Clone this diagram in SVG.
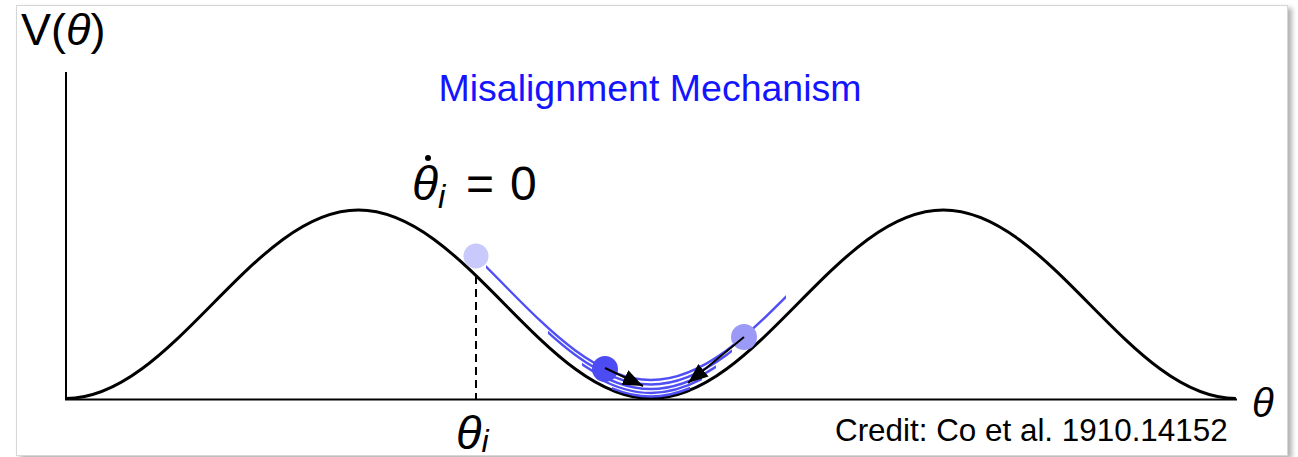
<svg xmlns="http://www.w3.org/2000/svg" xmlns:xlink="http://www.w3.org/1999/xlink" width="1298" height="457" viewBox="0 0 1298 457">
  <style>
    .txt { font-family: "Liberation Sans", Arial, sans-serif; fill: #000; }
    .it { font-style: italic; }
    .axis { stroke: #000; stroke-width: 2; fill: none; }
    .pot { stroke: #000; stroke-width: 3; fill: none; stroke-linejoin: round; }
    .trace { stroke: #4f4ff5; stroke-width: 2.4; fill: none; }
    .arrow { stroke: #000; stroke-width: 2; fill: none; marker-end: url(#ah); }
  </style>
  <defs>
    <filter id="shadow" x="-5%" y="-5%" width="110%" height="115%">
      <feDropShadow dx="4" dy="3" stdDeviation="2.5" flood-color="#000" flood-opacity="0.3"/>
    </filter>
    <marker id="ah" markerUnits="userSpaceOnUse" markerWidth="21" markerHeight="16" refX="20" refY="8" orient="auto">
      <path d="M0,0 L20,8 L0,16 z" fill="#000"/>
    </marker>
    <path id="valley" d="M358.5,210 C464.8,210 544.6,399 650.9,399 C757.2,399 837.1,210 943.4,210"/>
    <clipPath id="c1"><rect x="486" y="0" width="300" height="457"/></clipPath>
    <clipPath id="c2"><rect x="548" y="0" width="184" height="457"/></clipPath>
    <clipPath id="c3"><rect x="582" y="0" width="134" height="457"/></clipPath>
    <clipPath id="c4"><rect x="598" y="0" width="104" height="457"/></clipPath>
    <clipPath id="c5"><rect x="612" y="0" width="78" height="457"/></clipPath>
  </defs>

  <rect width="1298" height="457" fill="#fff"/>
  <rect id="frame" x="16.5" y="5.5" width="1271" height="450" fill="#fff" stroke="#d6d6d6" stroke-width="1" filter="url(#shadow)"/>

  <g id="axes">
    <line class="axis" x1="66" y1="72" x2="66" y2="400"/>
    <line class="axis" x1="65" y1="399.5" x2="1237" y2="399.5"/>
  </g>

  <g id="potential">
    <path class="pot" d="M66,398.5 C172.3,398.5 252.2,210 358.5,210 C464.8,210 544.6,398.5 650.9,398.5 C757.2,398.5 837.1,210 943.4,210 C1049.7,210 1129.6,398.5 1235.9,398.5"/>
    <line x1="476" y1="276" x2="476" y2="399" stroke="#000" stroke-width="2" stroke-dasharray="8,5"/>
  </g>

  <g id="traces">
    <g clip-path="url(#c1)"><use xlink:href="#valley" class="trace" transform="translate(0,-19)"/></g>
    <g clip-path="url(#c2)"><use xlink:href="#valley" class="trace" transform="translate(0,-14.5)"/></g>
    <g clip-path="url(#c3)"><use xlink:href="#valley" class="trace" transform="translate(0,-10)"/></g>
    <g clip-path="url(#c4)"><use xlink:href="#valley" class="trace" transform="translate(0,-6)"/></g>
    <g clip-path="url(#c5)"><use xlink:href="#valley" class="trace" transform="translate(0,-2.5)"/></g>
  </g>

  <g id="ball-initial"><circle cx="476" cy="256" r="12.5" fill="#c9c9fb"/></g>
  <g id="ball-right"><circle cx="744" cy="337" r="13" fill="#9b9bf7"/></g>
  <g id="ball-left"><circle cx="605" cy="369" r="13" fill="#4c4cf2"/></g>

  <g id="connectors">
    <line class="arrow" x1="605" y1="368" x2="643" y2="386"/>
    <line class="arrow" x1="744" y1="337" x2="688" y2="383"/>
  </g>

  <g id="labels">
    <text class="txt" x="21" y="45" font-size="45">V(<tspan class="it">θ</tspan>)</text>
    <text x="650" y="101" font-size="37.5" text-anchor="middle" font-family="Liberation Sans, Arial, sans-serif" fill="#1414ff">Misalignment Mechanism</text>
    <circle cx="428" cy="158" r="3" fill="#000"/>
    <text class="txt" x="412" y="200" font-size="48"><tspan class="it">θ</tspan><tspan class="it" font-size="33" dy="8">i</tspan></text>
    <text class="txt" x="466" y="200" font-size="48">=</text>
    <text class="txt" x="510" y="200" font-size="48">0</text>
    <text class="txt" x="456" y="449" font-size="47"><tspan class="it">θ</tspan><tspan class="it" font-size="32" dy="3">i</tspan></text>
    <text class="txt it" x="1252" y="417" font-size="40">θ</text>
    <text class="txt" x="835" y="441" font-size="31.4">Credit: Co et al. 1910.14152</text>
  </g>
</svg>
